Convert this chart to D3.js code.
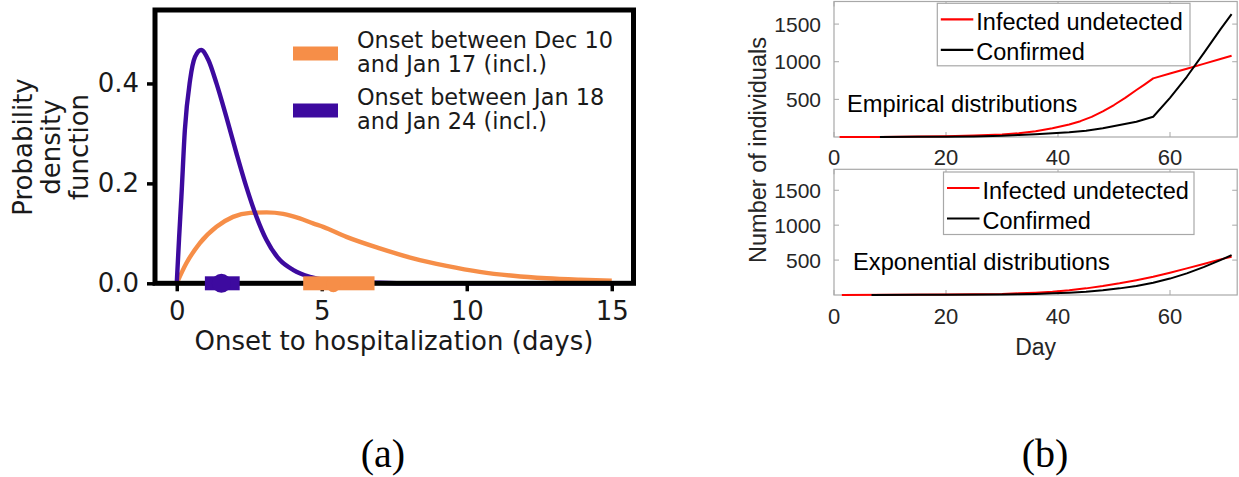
<!DOCTYPE html>
<html>
<head>
<meta charset="utf-8">
<script src="https://cdn.jsdelivr.net/npm/d3@7"></script>
<style>
  html, body { margin: 0; padding: 0; background: #fff; }
  svg { display: block; }
</style>
</head>
<body>
<svg id="fig" width="1239" height="477"></svg>
<script>
// ---------- Panel (a): onset-to-hospitalization densities ----------
const lateX   = [0, 0.08, 0.16, 0.28, 0.46, 0.63, 0.84, 1.09, 1.37, 1.71, 2.06, 2.40, 2.75, 3.09, 3.55, 4.01, 4.59, 5.28, 6, 7, 8, 10, 12, 15];
const lateY   = [0, 0.09, 0.173, 0.307, 0.407, 0.453, 0.467, 0.447, 0.40, 0.333, 0.26, 0.193, 0.133, 0.087, 0.047, 0.027, 0.013, 0.006, 0.003, 0.001, 0, 0, 0, 0];
const earlyX  = [0, 0.33, 0.79, 1.37, 1.94, 2.53, 3.10, 3.67, 4.24, 4.70, 5.05, 5.85, 7.0, 8.15, 9.30, 10.45, 11.6, 12.75, 13.9, 15.0];
const earlyY  = [0, 0.04, 0.08, 0.113, 0.133, 0.141, 0.142, 0.139, 0.13, 0.12, 0.113, 0.093, 0.07, 0.05, 0.035, 0.023, 0.015, 0.010, 0.007, 0.005];
// mean markers with interval bars: [low, mean, high]
const earlyMean = [4.36, 5.4, 6.82];
const lateMean  = [0.97, 1.54, 2.17];
const legendA = [
  ["Onset between Dec 10", "and Jan 17 (incl.)"],
  ["Onset between Jan 18", "and Jan 24 (incl.)"]
];
const xTicksA = [0, 5, 10, 15];
const yTicksA = [0.0, 0.2, 0.4];

// ---------- Panel (b): undetected vs confirmed counts ----------
const empRedDay   = [1, 8, 15, 20, 25, 30, 33, 36, 39, 42, 44, 46, 48, 50, 52, 54, 55.5, 57, 60, 63, 66, 69, 71];
const empRedVal   = [0, 1, 5, 10, 20, 34, 49, 75, 115, 165, 210, 268, 340, 425, 520, 624, 700, 779, 843, 907, 971, 1036, 1079];
const empBlackDay = [8.2, 15, 20, 25, 30, 33, 36, 39, 42, 45, 48, 51, 54, 57, 60, 63, 66, 69, 71];
const empBlackVal = [0, 2, 4, 8, 16, 27, 36, 49, 64, 84, 115, 159, 203, 269, 520, 800, 1110, 1430, 1632];
const expRedDay   = [1.4, 10, 20, 30, 33, 36, 39, 42, 45, 48, 51, 54, 57, 60, 63, 66, 69, 71];
const expRedVal   = [0, 2, 6, 15, 24, 34, 48, 68, 95, 128, 167, 212, 262, 320, 381, 445, 510, 548];
const expBlackDay = [6.7, 15, 20, 30, 33, 36, 39, 42, 45, 48, 51, 54, 57, 60, 63, 66, 69, 71];
const expBlackVal = [0, 2, 4, 8, 10, 16, 24, 34, 48, 68, 95, 130, 176, 235, 310, 400, 500, 571];
const seriesNames = ["Infected undetected", "Confirmed"];
const xTicksB = [0, 20, 40, 60];
const yTicksB = [500, 1000, 1500];

const ORANGE = "#f68e48";
const PURPLE = "#3d0a9f";
const svg = d3.select("#fig");
svg.append("rect").attr("width", 1239).attr("height", 477).attr("fill", "#fff");

// ===== Panel (a) =====
const fontA = "'DejaVu Sans', sans-serif";
const xA = d3.scaleLinear().domain([-0.75, 15.75]).range([155, 633.5]);
const yA = d3.scaleLinear().domain([0, 0.547]).range([283.3, 10]);
const gA = svg.append("g");

const lineA = d3.line().x(d => xA(d[0])).y(d => yA(d[1])).curve(d3.curveMonotoneX);
gA.append("path").datum(earlyX.map((x, i) => [x, earlyY[i]]))
  .attr("d", lineA).attr("fill", "none").attr("stroke", ORANGE).attr("stroke-width", 4.4);
gA.append("path").datum(lateX.map((x, i) => [x, lateY[i]]))
  .attr("d", lineA).attr("fill", "none").attr("stroke", PURPLE).attr("stroke-width", 4.4)
  .attr("stroke-linejoin", "round");

// frame
gA.append("rect").attr("x", xA.range()[0]).attr("y", yA.range()[1])
  .attr("width", xA.range()[1] - xA.range()[0]).attr("height", yA.range()[0] - yA.range()[1])
  .attr("fill", "none").attr("stroke", "#000").attr("stroke-width", 5);

// axes
const axAx = gA.append("g").attr("transform", `translate(0,${yA(0)})`)
  .call(d3.axisBottom(xA).tickValues(xTicksA).tickSize(8).tickPadding(10).tickFormat(d3.format("d")));
const axAy = gA.append("g").attr("transform", `translate(${xA.range()[0]},0)`)
  .call(d3.axisLeft(yA).tickValues(yTicksA).tickSize(8).tickPadding(8).tickFormat(d3.format(".1f")));
[axAx, axAy].forEach(a => {
  a.select(".domain").remove();
  a.selectAll(".tick line").attr("stroke", "#000").attr("stroke-width", 3.5);
  a.selectAll(".tick text").attr("font-family", fontA).attr("font-size", 26).attr("fill", "#1a1a1a");
});

// interval bars and means on the baseline
[[earlyMean, ORANGE], [lateMean, PURPLE]].forEach(([m, c]) => {
  gA.append("rect").attr("x", xA(m[0])).attr("y", yA(0) - 7)
    .attr("width", xA(m[2]) - xA(m[0])).attr("height", 14).attr("fill", c);
});
gA.append("circle").attr("cx", xA(lateMean[1])).attr("cy", yA(0)).attr("r", 9.5).attr("fill", PURPLE);
gA.append("ellipse").attr("cx", xA(earlyMean[1])).attr("cy", yA(0) + 1.5).attr("rx", 7).attr("ry", 7.5).attr("fill", ORANGE);

// labels
gA.append("text").attr("x", 394).attr("y", 350).attr("text-anchor", "middle")
  .attr("font-family", fontA).attr("font-size", 26).attr("fill", "#1a1a1a")
  .text("Onset to hospitalization (days)");
const ylabA = gA.append("text").attr("transform", "translate(0,147) rotate(-90)")
  .attr("text-anchor", "middle").attr("font-family", fontA).attr("font-size", 26).attr("fill", "#1a1a1a");
[["Probability", 32], ["density", 60], ["function", 88]].forEach(([t, y]) => {
  ylabA.append("tspan").attr("x", 0).attr("y", y).text(t);
});

// legend
[[ORANGE, 53.5, 47.5, 71.5], [PURPLE, 110.5, 104.5, 128.5]].forEach(([c, cy, b1, b2], i) => {
  gA.append("rect").attr("x", 293).attr("y", cy - 7).attr("width", 45).attr("height", 14).attr("fill", c);
  gA.append("text").attr("x", 357).attr("y", b1).attr("font-family", fontA).attr("font-size", 22.4)
    .attr("fill", "#1a1a1a").text(legendA[i][0]);
  gA.append("text").attr("x", 357).attr("y", b2).attr("font-family", fontA).attr("font-size", 22.4)
    .attr("fill", "#1a1a1a").text(legendA[i][1]);
});

// ===== Panel (b) =====
const fontB = "'Liberation Sans', Arial, sans-serif";
const xB = d3.scaleLinear().domain([0, 72]).range([834, 1237.2]);
const yTop = d3.scaleLinear().domain([0, 1800]).range([137, 1.5]);
const yBot = d3.scaleLinear().domain([0, 1800]).range([295, 169.3]);
const BOX = "#a8a8a8";

function subplot(y, redDay, redVal, blackDay, blackVal, title, titleBase, legTop, legLeft, legRight, tickBase) {
  const g = svg.append("g");
  const [y0, y1] = y.range();
  // inward ticks on all four sides
  const tl = 5;
  xTicksB.forEach(t => {
    g.append("line").attr("x1", xB(t)).attr("x2", xB(t)).attr("y1", y0).attr("y2", y0 - tl).attr("stroke", BOX);
    g.append("line").attr("x1", xB(t)).attr("x2", xB(t)).attr("y1", y1).attr("y2", y1 + tl).attr("stroke", BOX);
    g.append("text").attr("x", xB(t)).attr("y", tickBase).attr("text-anchor", "middle")
      .attr("font-family", fontB).attr("font-size", 22).attr("fill", "#262626").text(t);
  });
  yTicksB.forEach(t => {
    g.append("line").attr("x1", xB(0)).attr("x2", xB(0) + tl).attr("y1", y(t)).attr("y2", y(t)).attr("stroke", BOX);
    g.append("line").attr("x1", xB(72)).attr("x2", xB(72) - tl).attr("y1", y(t)).attr("y2", y(t)).attr("stroke", BOX);
    g.append("text").attr("x", 821).attr("y", y(t)).attr("dy", "0.36em").attr("text-anchor", "end")
      .attr("font-family", fontB).attr("font-size", 21).attr("fill", "#262626").text(t);
  });
  g.append("rect").attr("x", xB(0)).attr("y", y1).attr("width", xB(72) - xB(0)).attr("height", y0 - y1)
    .attr("fill", "none").attr("stroke", BOX).attr("stroke-width", 1.2);

  const line = d3.line().x(d => xB(d[0])).y(d => y(d[1])).curve(d3.curveLinear);
  g.append("path").datum(redDay.map((d, i) => [d, redVal[i]])).attr("d", line)
    .attr("fill", "none").attr("stroke", "#ff0000").attr("stroke-width", 2).attr("stroke-linejoin", "round");
  g.append("path").datum(blackDay.map((d, i) => [d, blackVal[i]])).attr("d", line)
    .attr("fill", "none").attr("stroke", "#000").attr("stroke-width", 2).attr("stroke-linejoin", "round");

  g.append("text").attr("x", title.x).attr("y", titleBase).attr("font-family", fontB)
    .attr("font-size", 23.7).attr("fill", "#000").text(title.text);

  // legend box
  g.append("rect").attr("x", legLeft).attr("y", legTop).attr("width", legRight - legLeft).attr("height", 62.5)
    .attr("fill", "#fff").attr("stroke", BOX).attr("stroke-width", 1.2);
  ["#ff0000", "#000"].forEach((c, i) => {
    const ly = legTop + 16 + i * 30.5;
    g.append("line").attr("x1", legLeft + 3.5).attr("x2", legLeft + 36).attr("y1", ly).attr("y2", ly)
      .attr("stroke", c).attr("stroke-width", 2.2);
    g.append("text").attr("x", legLeft + 39).attr("y", ly + 10.5).attr("font-family", fontB)
      .attr("font-size", 23.5).attr("fill", "#000").text(seriesNames[i]);
  });
}

subplot(yTop, empRedDay, empRedVal, empBlackDay, empBlackVal,
  { x: 847, text: "Empirical distributions" }, 112, 3.3, 937.3, 1190, 165);
subplot(yBot, expRedDay, expRedVal, expBlackDay, expBlackVal,
  { x: 853, text: "Exponential distributions" }, 270, 172, 943.5, 1194, 324);

svg.append("text").attr("x", xB(36)).attr("y", 355).attr("text-anchor", "middle")
  .attr("font-family", fontB).attr("font-size", 23).attr("fill", "#262626").text("Day");
svg.append("text").attr("transform", "translate(766,150) rotate(-90)").attr("text-anchor", "middle")
  .attr("font-family", fontB).attr("font-size", 23.5).attr("fill", "#262626").text("Number of individuals");

// panel captions
[["(a)", 383], ["(b)", 1045]].forEach(([t, x]) => {
  svg.append("text").attr("x", x).attr("y", 467).attr("text-anchor", "middle")
    .attr("font-family", "'Liberation Serif', 'Times New Roman', serif").attr("font-size", 40)
    .attr("fill", "#000").text(t);
});
</script>
</body>
</html>
